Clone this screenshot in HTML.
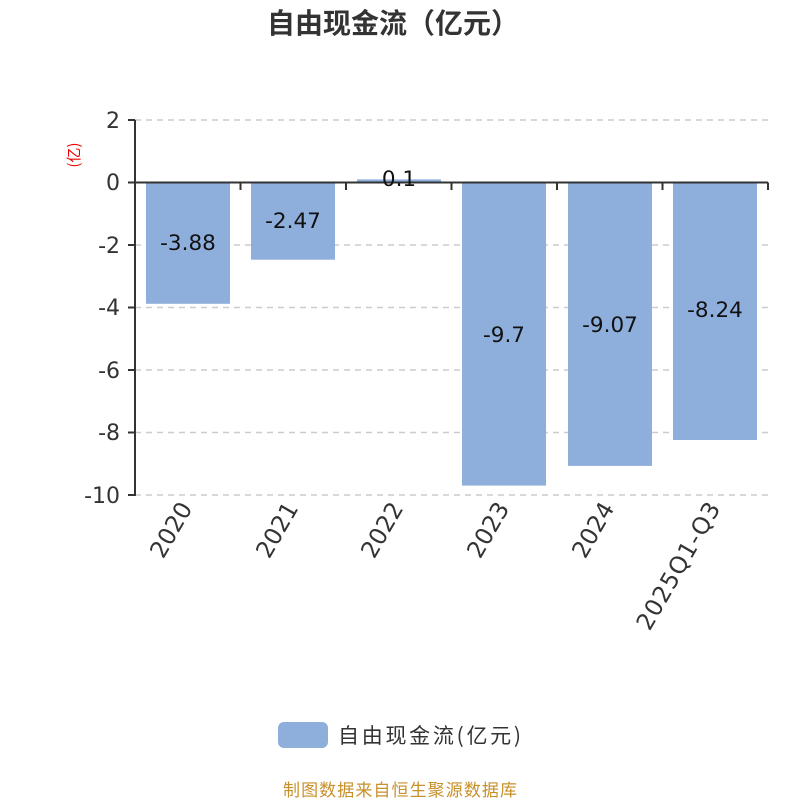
<!DOCTYPE html>
<html><head><meta charset="utf-8"><style>body{margin:0;background:#fff}</style></head><body>
<svg width="800" height="800" xmlns="http://www.w3.org/2000/svg" font-family="'DejaVu Sans','Noto Sans CJK SC',sans-serif">
<text x="393" y="33" text-anchor="middle" font-size="28" font-weight="bold" fill="#333" font-family="'Noto Sans CJK SC',sans-serif">自由现金流（亿元）</text>
<g stroke="#ccc" stroke-width="1.5" stroke-dasharray="6,5">
<line x1="135" y1="120" x2="768" y2="120"/>
<line x1="135" y1="245" x2="768" y2="245"/>
<line x1="135" y1="307.5" x2="768" y2="307.5"/>
<line x1="135" y1="370" x2="768" y2="370"/>
<line x1="135" y1="432.5" x2="768" y2="432.5"/>
<line x1="135" y1="495" x2="768" y2="495"/>
</g>
<g fill="#8eaedb">
<rect x="146" y="182.5" width="84" height="121.3"/>
<rect x="251" y="182.5" width="84" height="77.2"/>
<rect x="357" y="179.4" width="84" height="3.1"/>
<rect x="462" y="182.5" width="84" height="303.1"/>
<rect x="568" y="182.5" width="84" height="283.4"/>
<rect x="673" y="182.5" width="84" height="257.5"/>
</g>
<g stroke="#333" stroke-width="2" fill="none">
<line x1="135" y1="120" x2="135" y2="496"/>
<line x1="128" y1="120" x2="135" y2="120"/>
<line x1="128" y1="182.5" x2="135" y2="182.5"/>
<line x1="128" y1="245" x2="135" y2="245"/>
<line x1="128" y1="307.5" x2="135" y2="307.5"/>
<line x1="128" y1="370" x2="135" y2="370"/>
<line x1="128" y1="432.5" x2="135" y2="432.5"/>
<line x1="128" y1="495" x2="135" y2="495"/>
<line x1="135" y1="182.5" x2="768" y2="182.5"/>
<line x1="240.5" y1="182.5" x2="240.5" y2="190"/>
<line x1="346" y1="182.5" x2="346" y2="190"/>
<line x1="451.5" y1="182.5" x2="451.5" y2="190"/>
<line x1="557" y1="182.5" x2="557" y2="190"/>
<line x1="662.5" y1="182.5" x2="662.5" y2="190"/>
<line x1="768" y1="182.5" x2="768" y2="190"/>
</g>
<g font-size="22" fill="#333" text-anchor="end">
<text x="120" y="128">2</text>
<text x="120" y="190">0</text>
<text x="120" y="253">-2</text>
<text x="120" y="315">-4</text>
<text x="120" y="378">-6</text>
<text x="120" y="440">-8</text>
<text x="120" y="503">-10</text>
</g>
<text transform="translate(79,155) rotate(-90)" text-anchor="middle" font-size="15" fill="#e00" font-family="'Noto Sans CJK SC',sans-serif">(亿)</text>
<g font-size="23.5" fill="#333" text-anchor="end">
<text transform="translate(193,508) rotate(-60)">2020</text>
<text transform="translate(299,508) rotate(-60)">2021</text>
<text transform="translate(404,508) rotate(-60)">2022</text>
<text transform="translate(510,508) rotate(-60)">2023</text>
<text transform="translate(615,508) rotate(-60)">2024</text>
<text transform="translate(721,508) rotate(-60)" textLength="143">2025Q1-Q3</text>
</g>
<g font-size="21.5" fill="#111" text-anchor="middle">
<text x="188" y="250">-3.88</text>
<text x="293" y="228">-2.47</text>
<text x="399" y="186">0.1</text>
<text x="504" y="342">-9.7</text>
<text x="610" y="332">-9.07</text>
<text x="715" y="317">-8.24</text>
</g>
<rect x="278" y="722" width="50" height="26" rx="6" fill="#8eaedb"/>
<text x="338" y="743" font-size="21" fill="#333" textLength="183" font-family="'Noto Sans CJK SC',sans-serif">自由现金流(亿元)</text>
<text x="400" y="796" text-anchor="middle" font-size="17" fill="#c8902a" textLength="234" font-family="'Noto Sans CJK SC',sans-serif">制图数据来自恒生聚源数据库</text>
</svg>
</body></html>
